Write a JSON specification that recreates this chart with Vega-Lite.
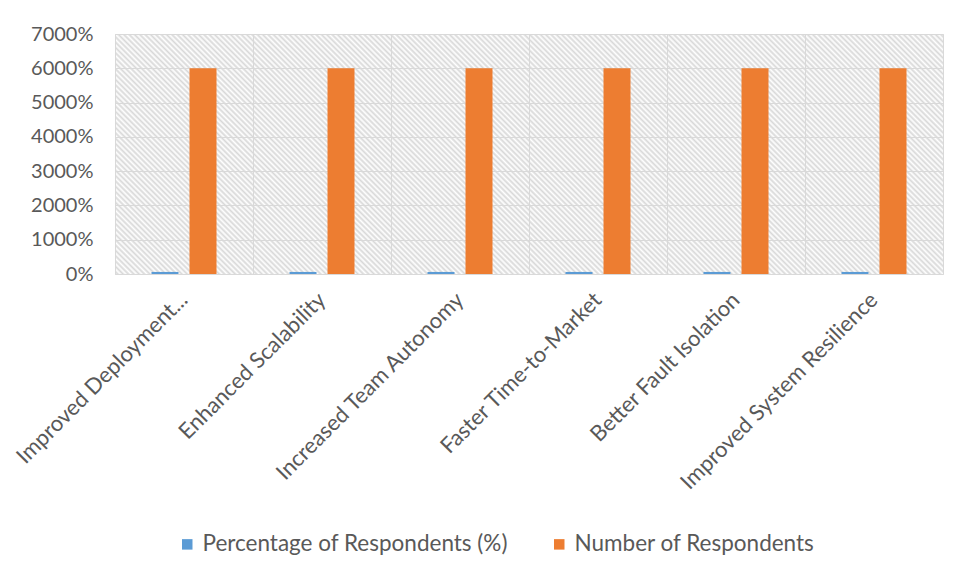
{
  "$schema": "https://vega.github.io/schema/vega-lite/v6.json",
  "width": 828,
  "height": 240,
  "autosize": "none",
  "padding": {"left": 115, "top": 34, "right": 18, "bottom": 306},
  "background": "white",
  "config": {
    "view": {
      "stroke": "#d9d9d9",
      "strokeWidth": 1,
      "fill": {
        "gradient": "linear",
        "x1": 0, "y1": 1, "x2": 1.19, "y2": 0.655,
        "stops": [
{"offset":0,"color":"#fff"},{"offset":0.0025,"color":"#d8d8d8"},{"offset":0.005,"color":"#fff"},{"offset":0.0075,"color":"#d8d8d8"},
{"offset":0.01,"color":"#fff"},{"offset":0.0125,"color":"#d8d8d8"},{"offset":0.015,"color":"#fff"},{"offset":0.0175,"color":"#d8d8d8"},
{"offset":0.02,"color":"#fff"},{"offset":0.0225,"color":"#d8d8d8"},{"offset":0.025,"color":"#fff"},{"offset":0.0275,"color":"#d8d8d8"},
{"offset":0.03,"color":"#fff"},{"offset":0.0325,"color":"#d8d8d8"},{"offset":0.035,"color":"#fff"},{"offset":0.0375,"color":"#d8d8d8"},
{"offset":0.04,"color":"#fff"},{"offset":0.0425,"color":"#d8d8d8"},{"offset":0.045,"color":"#fff"},{"offset":0.0475,"color":"#d8d8d8"},
{"offset":0.05,"color":"#fff"},{"offset":0.0525,"color":"#d8d8d8"},{"offset":0.055,"color":"#fff"},{"offset":0.0575,"color":"#d8d8d8"},
{"offset":0.06,"color":"#fff"},{"offset":0.0625,"color":"#d8d8d8"},{"offset":0.065,"color":"#fff"},{"offset":0.0675,"color":"#d8d8d8"},
{"offset":0.07,"color":"#fff"},{"offset":0.0725,"color":"#d8d8d8"},{"offset":0.075,"color":"#fff"},{"offset":0.0775,"color":"#d8d8d8"},
{"offset":0.08,"color":"#fff"},{"offset":0.0825,"color":"#d8d8d8"},{"offset":0.085,"color":"#fff"},{"offset":0.0875,"color":"#d8d8d8"},
{"offset":0.09,"color":"#fff"},{"offset":0.0925,"color":"#d8d8d8"},{"offset":0.095,"color":"#fff"},{"offset":0.0975,"color":"#d8d8d8"},
{"offset":0.10,"color":"#fff"},{"offset":0.1025,"color":"#d8d8d8"},{"offset":0.105,"color":"#fff"},{"offset":0.1075,"color":"#d8d8d8"},
{"offset":0.11,"color":"#fff"},{"offset":0.1125,"color":"#d8d8d8"},{"offset":0.115,"color":"#fff"},{"offset":0.1175,"color":"#d8d8d8"},
{"offset":0.12,"color":"#fff"},{"offset":0.1225,"color":"#d8d8d8"},{"offset":0.125,"color":"#fff"},{"offset":0.1275,"color":"#d8d8d8"},
{"offset":0.13,"color":"#fff"},{"offset":0.1325,"color":"#d8d8d8"},{"offset":0.135,"color":"#fff"},{"offset":0.1375,"color":"#d8d8d8"},
{"offset":0.14,"color":"#fff"},{"offset":0.1425,"color":"#d8d8d8"},{"offset":0.145,"color":"#fff"},{"offset":0.1475,"color":"#d8d8d8"},
{"offset":0.15,"color":"#fff"},{"offset":0.1525,"color":"#d8d8d8"},{"offset":0.155,"color":"#fff"},{"offset":0.1575,"color":"#d8d8d8"},
{"offset":0.16,"color":"#fff"},{"offset":0.1625,"color":"#d8d8d8"},{"offset":0.165,"color":"#fff"},{"offset":0.1675,"color":"#d8d8d8"},
{"offset":0.17,"color":"#fff"},{"offset":0.1725,"color":"#d8d8d8"},{"offset":0.175,"color":"#fff"},{"offset":0.1775,"color":"#d8d8d8"},
{"offset":0.18,"color":"#fff"},{"offset":0.1825,"color":"#d8d8d8"},{"offset":0.185,"color":"#fff"},{"offset":0.1875,"color":"#d8d8d8"},
{"offset":0.19,"color":"#fff"},{"offset":0.1925,"color":"#d8d8d8"},{"offset":0.195,"color":"#fff"},{"offset":0.1975,"color":"#d8d8d8"},
{"offset":0.20,"color":"#fff"},{"offset":0.2025,"color":"#d8d8d8"},{"offset":0.205,"color":"#fff"},{"offset":0.2075,"color":"#d8d8d8"},
{"offset":0.21,"color":"#fff"},{"offset":0.2125,"color":"#d8d8d8"},{"offset":0.215,"color":"#fff"},{"offset":0.2175,"color":"#d8d8d8"},
{"offset":0.22,"color":"#fff"},{"offset":0.2225,"color":"#d8d8d8"},{"offset":0.225,"color":"#fff"},{"offset":0.2275,"color":"#d8d8d8"},
{"offset":0.23,"color":"#fff"},{"offset":0.2325,"color":"#d8d8d8"},{"offset":0.235,"color":"#fff"},{"offset":0.2375,"color":"#d8d8d8"},
{"offset":0.24,"color":"#fff"},{"offset":0.2425,"color":"#d8d8d8"},{"offset":0.245,"color":"#fff"},{"offset":0.2475,"color":"#d8d8d8"},
{"offset":0.25,"color":"#fff"},{"offset":0.2525,"color":"#d8d8d8"},{"offset":0.255,"color":"#fff"},{"offset":0.2575,"color":"#d8d8d8"},
{"offset":0.26,"color":"#fff"},{"offset":0.2625,"color":"#d8d8d8"},{"offset":0.265,"color":"#fff"},{"offset":0.2675,"color":"#d8d8d8"},
{"offset":0.27,"color":"#fff"},{"offset":0.2725,"color":"#d8d8d8"},{"offset":0.275,"color":"#fff"},{"offset":0.2775,"color":"#d8d8d8"},
{"offset":0.28,"color":"#fff"},{"offset":0.2825,"color":"#d8d8d8"},{"offset":0.285,"color":"#fff"},{"offset":0.2875,"color":"#d8d8d8"},
{"offset":0.29,"color":"#fff"},{"offset":0.2925,"color":"#d8d8d8"},{"offset":0.295,"color":"#fff"},{"offset":0.2975,"color":"#d8d8d8"},
{"offset":0.30,"color":"#fff"},{"offset":0.3025,"color":"#d8d8d8"},{"offset":0.305,"color":"#fff"},{"offset":0.3075,"color":"#d8d8d8"},
{"offset":0.31,"color":"#fff"},{"offset":0.3125,"color":"#d8d8d8"},{"offset":0.315,"color":"#fff"},{"offset":0.3175,"color":"#d8d8d8"},
{"offset":0.32,"color":"#fff"},{"offset":0.3225,"color":"#d8d8d8"},{"offset":0.325,"color":"#fff"},{"offset":0.3275,"color":"#d8d8d8"},
{"offset":0.33,"color":"#fff"},{"offset":0.3325,"color":"#d8d8d8"},{"offset":0.335,"color":"#fff"},{"offset":0.3375,"color":"#d8d8d8"},
{"offset":0.34,"color":"#fff"},{"offset":0.3425,"color":"#d8d8d8"},{"offset":0.345,"color":"#fff"},{"offset":0.3475,"color":"#d8d8d8"},
{"offset":0.35,"color":"#fff"},{"offset":0.3525,"color":"#d8d8d8"},{"offset":0.355,"color":"#fff"},{"offset":0.3575,"color":"#d8d8d8"},
{"offset":0.36,"color":"#fff"},{"offset":0.3625,"color":"#d8d8d8"},{"offset":0.365,"color":"#fff"},{"offset":0.3675,"color":"#d8d8d8"},
{"offset":0.37,"color":"#fff"},{"offset":0.3725,"color":"#d8d8d8"},{"offset":0.375,"color":"#fff"},{"offset":0.3775,"color":"#d8d8d8"},
{"offset":0.38,"color":"#fff"},{"offset":0.3825,"color":"#d8d8d8"},{"offset":0.385,"color":"#fff"},{"offset":0.3875,"color":"#d8d8d8"},
{"offset":0.39,"color":"#fff"},{"offset":0.3925,"color":"#d8d8d8"},{"offset":0.395,"color":"#fff"},{"offset":0.3975,"color":"#d8d8d8"},
{"offset":0.40,"color":"#fff"},{"offset":0.4025,"color":"#d8d8d8"},{"offset":0.405,"color":"#fff"},{"offset":0.4075,"color":"#d8d8d8"},
{"offset":0.41,"color":"#fff"},{"offset":0.4125,"color":"#d8d8d8"},{"offset":0.415,"color":"#fff"},{"offset":0.4175,"color":"#d8d8d8"},
{"offset":0.42,"color":"#fff"},{"offset":0.4225,"color":"#d8d8d8"},{"offset":0.425,"color":"#fff"},{"offset":0.4275,"color":"#d8d8d8"},
{"offset":0.43,"color":"#fff"},{"offset":0.4325,"color":"#d8d8d8"},{"offset":0.435,"color":"#fff"},{"offset":0.4375,"color":"#d8d8d8"},
{"offset":0.44,"color":"#fff"},{"offset":0.4425,"color":"#d8d8d8"},{"offset":0.445,"color":"#fff"},{"offset":0.4475,"color":"#d8d8d8"},
{"offset":0.45,"color":"#fff"},{"offset":0.4525,"color":"#d8d8d8"},{"offset":0.455,"color":"#fff"},{"offset":0.4575,"color":"#d8d8d8"},
{"offset":0.46,"color":"#fff"},{"offset":0.4625,"color":"#d8d8d8"},{"offset":0.465,"color":"#fff"},{"offset":0.4675,"color":"#d8d8d8"},
{"offset":0.47,"color":"#fff"},{"offset":0.4725,"color":"#d8d8d8"},{"offset":0.475,"color":"#fff"},{"offset":0.4775,"color":"#d8d8d8"},
{"offset":0.48,"color":"#fff"},{"offset":0.4825,"color":"#d8d8d8"},{"offset":0.485,"color":"#fff"},{"offset":0.4875,"color":"#d8d8d8"},
{"offset":0.49,"color":"#fff"},{"offset":0.4925,"color":"#d8d8d8"},{"offset":0.495,"color":"#fff"},{"offset":0.4975,"color":"#d8d8d8"},
{"offset":0.50,"color":"#fff"},{"offset":0.5025,"color":"#d8d8d8"},{"offset":0.505,"color":"#fff"},{"offset":0.5075,"color":"#d8d8d8"},
{"offset":0.51,"color":"#fff"},{"offset":0.5125,"color":"#d8d8d8"},{"offset":0.515,"color":"#fff"},{"offset":0.5175,"color":"#d8d8d8"},
{"offset":0.52,"color":"#fff"},{"offset":0.5225,"color":"#d8d8d8"},{"offset":0.525,"color":"#fff"},{"offset":0.5275,"color":"#d8d8d8"},
{"offset":0.53,"color":"#fff"},{"offset":0.5325,"color":"#d8d8d8"},{"offset":0.535,"color":"#fff"},{"offset":0.5375,"color":"#d8d8d8"},
{"offset":0.54,"color":"#fff"},{"offset":0.5425,"color":"#d8d8d8"},{"offset":0.545,"color":"#fff"},{"offset":0.5475,"color":"#d8d8d8"},
{"offset":0.55,"color":"#fff"},{"offset":0.5525,"color":"#d8d8d8"},{"offset":0.555,"color":"#fff"},{"offset":0.5575,"color":"#d8d8d8"},
{"offset":0.56,"color":"#fff"},{"offset":0.5625,"color":"#d8d8d8"},{"offset":0.565,"color":"#fff"},{"offset":0.5675,"color":"#d8d8d8"},
{"offset":0.57,"color":"#fff"},{"offset":0.5725,"color":"#d8d8d8"},{"offset":0.575,"color":"#fff"},{"offset":0.5775,"color":"#d8d8d8"},
{"offset":0.58,"color":"#fff"},{"offset":0.5825,"color":"#d8d8d8"},{"offset":0.585,"color":"#fff"},{"offset":0.5875,"color":"#d8d8d8"},
{"offset":0.59,"color":"#fff"},{"offset":0.5925,"color":"#d8d8d8"},{"offset":0.595,"color":"#fff"},{"offset":0.5975,"color":"#d8d8d8"},
{"offset":0.60,"color":"#fff"},{"offset":0.6025,"color":"#d8d8d8"},{"offset":0.605,"color":"#fff"},{"offset":0.6075,"color":"#d8d8d8"},
{"offset":0.61,"color":"#fff"},{"offset":0.6125,"color":"#d8d8d8"},{"offset":0.615,"color":"#fff"},{"offset":0.6175,"color":"#d8d8d8"},
{"offset":0.62,"color":"#fff"},{"offset":0.6225,"color":"#d8d8d8"},{"offset":0.625,"color":"#fff"},{"offset":0.6275,"color":"#d8d8d8"},
{"offset":0.63,"color":"#fff"},{"offset":0.6325,"color":"#d8d8d8"},{"offset":0.635,"color":"#fff"},{"offset":0.6375,"color":"#d8d8d8"},
{"offset":0.64,"color":"#fff"},{"offset":0.6425,"color":"#d8d8d8"},{"offset":0.645,"color":"#fff"},{"offset":0.6475,"color":"#d8d8d8"},
{"offset":0.65,"color":"#fff"},{"offset":0.6525,"color":"#d8d8d8"},{"offset":0.655,"color":"#fff"},{"offset":0.6575,"color":"#d8d8d8"},
{"offset":0.66,"color":"#fff"},{"offset":0.6625,"color":"#d8d8d8"},{"offset":0.665,"color":"#fff"},{"offset":0.6675,"color":"#d8d8d8"},
{"offset":0.67,"color":"#fff"},{"offset":0.6725,"color":"#d8d8d8"},{"offset":0.675,"color":"#fff"},{"offset":0.6775,"color":"#d8d8d8"},
{"offset":0.68,"color":"#fff"},{"offset":0.6825,"color":"#d8d8d8"},{"offset":0.685,"color":"#fff"},{"offset":0.6875,"color":"#d8d8d8"},
{"offset":0.69,"color":"#fff"},{"offset":0.6925,"color":"#d8d8d8"},{"offset":0.695,"color":"#fff"},{"offset":0.6975,"color":"#d8d8d8"},
{"offset":0.70,"color":"#fff"},{"offset":0.7025,"color":"#d8d8d8"},{"offset":0.705,"color":"#fff"},{"offset":0.7075,"color":"#d8d8d8"},
{"offset":0.71,"color":"#fff"},{"offset":0.7125,"color":"#d8d8d8"},{"offset":0.715,"color":"#fff"},{"offset":0.7175,"color":"#d8d8d8"},
{"offset":0.72,"color":"#fff"},{"offset":0.7225,"color":"#d8d8d8"},{"offset":0.725,"color":"#fff"},{"offset":0.7275,"color":"#d8d8d8"},
{"offset":0.73,"color":"#fff"},{"offset":0.7325,"color":"#d8d8d8"},{"offset":0.735,"color":"#fff"},{"offset":0.7375,"color":"#d8d8d8"},
{"offset":0.74,"color":"#fff"},{"offset":0.7425,"color":"#d8d8d8"},{"offset":0.745,"color":"#fff"},{"offset":0.7475,"color":"#d8d8d8"},
{"offset":0.75,"color":"#fff"},{"offset":0.7525,"color":"#d8d8d8"},{"offset":0.755,"color":"#fff"},{"offset":0.7575,"color":"#d8d8d8"},
{"offset":0.76,"color":"#fff"},{"offset":0.7625,"color":"#d8d8d8"},{"offset":0.765,"color":"#fff"},{"offset":0.7675,"color":"#d8d8d8"},
{"offset":0.77,"color":"#fff"},{"offset":0.7725,"color":"#d8d8d8"},{"offset":0.775,"color":"#fff"},{"offset":0.7775,"color":"#d8d8d8"},
{"offset":0.78,"color":"#fff"},{"offset":0.7825,"color":"#d8d8d8"},{"offset":0.785,"color":"#fff"},{"offset":0.7875,"color":"#d8d8d8"},
{"offset":0.79,"color":"#fff"},{"offset":0.7925,"color":"#d8d8d8"},{"offset":0.795,"color":"#fff"},{"offset":0.7975,"color":"#d8d8d8"},
{"offset":0.80,"color":"#fff"},{"offset":0.8025,"color":"#d8d8d8"},{"offset":0.805,"color":"#fff"},{"offset":0.8075,"color":"#d8d8d8"},
{"offset":0.81,"color":"#fff"},{"offset":0.8125,"color":"#d8d8d8"},{"offset":0.815,"color":"#fff"},{"offset":0.8175,"color":"#d8d8d8"},
{"offset":0.82,"color":"#fff"},{"offset":0.8225,"color":"#d8d8d8"},{"offset":0.825,"color":"#fff"},{"offset":0.8275,"color":"#d8d8d8"},
{"offset":0.83,"color":"#fff"},{"offset":0.8325,"color":"#d8d8d8"},{"offset":0.835,"color":"#fff"},{"offset":0.8375,"color":"#d8d8d8"},
{"offset":0.84,"color":"#fff"},{"offset":0.8425,"color":"#d8d8d8"},{"offset":0.845,"color":"#fff"},{"offset":0.8475,"color":"#d8d8d8"},
{"offset":0.85,"color":"#fff"},{"offset":0.8525,"color":"#d8d8d8"},{"offset":0.855,"color":"#fff"},{"offset":0.8575,"color":"#d8d8d8"},
{"offset":0.86,"color":"#fff"},{"offset":0.8625,"color":"#d8d8d8"},{"offset":0.865,"color":"#fff"},{"offset":0.8675,"color":"#d8d8d8"},
{"offset":0.87,"color":"#fff"},{"offset":0.8725,"color":"#d8d8d8"},{"offset":0.875,"color":"#fff"},{"offset":0.8775,"color":"#d8d8d8"},
{"offset":0.88,"color":"#fff"},{"offset":0.8825,"color":"#d8d8d8"},{"offset":0.885,"color":"#fff"},{"offset":0.8875,"color":"#d8d8d8"},
{"offset":0.89,"color":"#fff"},{"offset":0.8925,"color":"#d8d8d8"},{"offset":0.895,"color":"#fff"},{"offset":0.8975,"color":"#d8d8d8"},
{"offset":0.90,"color":"#fff"},{"offset":0.9025,"color":"#d8d8d8"},{"offset":0.905,"color":"#fff"},{"offset":0.9075,"color":"#d8d8d8"},
{"offset":0.91,"color":"#fff"},{"offset":0.9125,"color":"#d8d8d8"},{"offset":0.915,"color":"#fff"},{"offset":0.9175,"color":"#d8d8d8"},
{"offset":0.92,"color":"#fff"},{"offset":0.9225,"color":"#d8d8d8"},{"offset":0.925,"color":"#fff"},{"offset":0.9275,"color":"#d8d8d8"},
{"offset":0.93,"color":"#fff"},{"offset":0.9325,"color":"#d8d8d8"},{"offset":0.935,"color":"#fff"},{"offset":0.9375,"color":"#d8d8d8"},
{"offset":0.94,"color":"#fff"},{"offset":0.9425,"color":"#d8d8d8"},{"offset":0.945,"color":"#fff"},{"offset":0.9475,"color":"#d8d8d8"},
{"offset":0.95,"color":"#fff"},{"offset":0.9525,"color":"#d8d8d8"},{"offset":0.955,"color":"#fff"},{"offset":0.9575,"color":"#d8d8d8"},
{"offset":0.96,"color":"#fff"},{"offset":0.9625,"color":"#d8d8d8"},{"offset":0.965,"color":"#fff"},{"offset":0.9675,"color":"#d8d8d8"},
{"offset":0.97,"color":"#fff"},{"offset":0.9725,"color":"#d8d8d8"},{"offset":0.975,"color":"#fff"},{"offset":0.9775,"color":"#d8d8d8"},
{"offset":0.98,"color":"#fff"},{"offset":0.9825,"color":"#d8d8d8"},{"offset":0.985,"color":"#fff"},{"offset":0.9875,"color":"#d8d8d8"},
{"offset":0.99,"color":"#fff"},{"offset":0.9925,"color":"#d8d8d8"},{"offset":0.995,"color":"#fff"},{"offset":0.9975,"color":"#d8d8d8"},
{"offset":1,"color":"#fff"}
        ]
      }
    },
    "font": "Lato"
  },
  "data": {
    "values": [
      {"category": "Improved Deployment Frequency", "series": "Percentage of Respondents (%)", "value": 0.6},
      {"category": "Improved Deployment Frequency", "series": "Number of Respondents", "value": 60},
      {"category": "Enhanced Scalability", "series": "Percentage of Respondents (%)", "value": 0.6},
      {"category": "Enhanced Scalability", "series": "Number of Respondents", "value": 60},
      {"category": "Increased Team Autonomy", "series": "Percentage of Respondents (%)", "value": 0.6},
      {"category": "Increased Team Autonomy", "series": "Number of Respondents", "value": 60},
      {"category": "Faster Time-to-Market", "series": "Percentage of Respondents (%)", "value": 0.6},
      {"category": "Faster Time-to-Market", "series": "Number of Respondents", "value": 60},
      {"category": "Better Fault Isolation", "series": "Percentage of Respondents (%)", "value": 0.6},
      {"category": "Better Fault Isolation", "series": "Number of Respondents", "value": 60},
      {"category": "Improved System Resilience", "series": "Percentage of Respondents (%)", "value": 0.6},
      {"category": "Improved System Resilience", "series": "Number of Respondents", "value": 60}
    ]
  },
  "mark": {"type": "bar"},
  "encoding": {
    "x": {
      "field": "category",
      "type": "nominal",
      "sort": null,
      "scale": {"paddingInner": 0, "paddingOuter": 0},
      "axis": {
        "title": null,
        "grid": true,
        "bandPosition": 0,
        "gridColor": "#d9d9d9",
        "gridWidth": 1,
        "domain": false,
        "ticks": false,
        "labelAngle": -45,
        "labelAlign": "right",
        "labelBaseline": "middle",
        "labelPadding": 22,
        "labelFontSize": 22,
        "labelColor": "#595959",
        "labelLimit": 400,
        "labelExpr": "datum.label == 'Improved Deployment Frequency' ? 'Improved Deployment...' : datum.label"
      }
    },
    "xOffset": {
      "field": "series",
      "type": "nominal",
      "sort": ["Percentage of Respondents (%)", "Number of Respondents"],
      "scale": {"paddingInner": 0.29, "paddingOuter": 0.96}
    },
    "y": {
      "field": "value",
      "type": "quantitative",
      "scale": {"domain": [0, 70]},
      "axis": {
        "title": null,
        "values": [0, 10, 20, 30, 40, 50, 60, 70],
        "format": "%",
        "grid": true,
        "gridColor": "#d9d9d9",
        "domain": false,
        "ticks": false,
        "labelPadding": 22,
        "labelFontSize": 20,
        "labelColor": "#595959"
      }
    },
    "color": {
      "field": "series",
      "type": "nominal",
      "scale": {
        "domain": ["Percentage of Respondents (%)", "Number of Respondents"],
        "range": ["#5B9BD5", "#ED7D31"]
      },
      "legend": {
        "title": null,
        "orient": "none",
        "legendX": 61,
        "legendY": 499,
        "direction": "horizontal",
        "symbolType": "square",
        "symbolSize": 110,
        "symbolStrokeWidth": 0,
        "labelFontSize": 22.5,
        "labelColor": "#595959",
        "labelOffset": 4,
        "labelLimit": 0,
        "columnPadding": 40
      }
    }
  }
}
